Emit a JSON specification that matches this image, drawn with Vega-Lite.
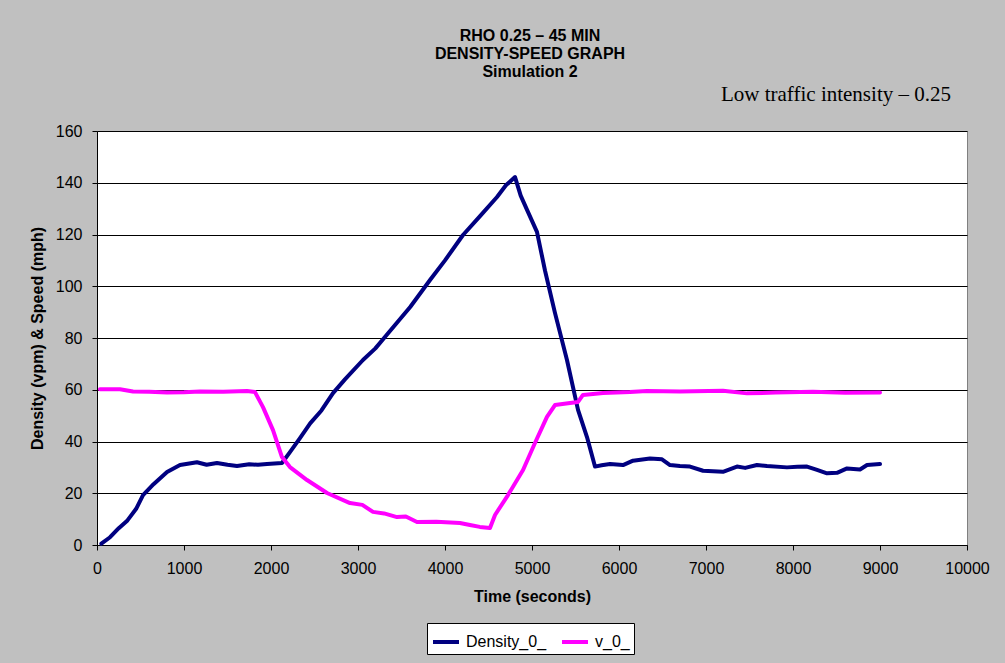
{
  "$schema": "https://vega.github.io/schema/vega-lite/v6.json",
  "width": 870,
  "height": 414,
  "autosize": {"type": "none"},
  "padding": {"left": 97, "top": 131, "right": 38, "bottom": 118},
  "background": "#C0C0C0",
  "config": {
    "view": {"stroke": "#808080", "fill": "white"},
    "font": "Liberation Sans"
  },
  "title": {
    "text": ["RHO 0.25 – 45 MIN", "DENSITY-SPEED GRAPH", "Simulation 2"],
    "anchor": "middle",
    "frame": "group",
    "font": "Liberation Sans",
    "fontSize": 16,
    "fontWeight": "bold",
    "lineHeight": 18,
    "color": "black",
    "offset": 52,
    "dy": 48,
    "dx": -2
  },
  "layer": [
    {
      "data": {
        "values": [
          {"t": 50, "series": "Density_0_", "value": 0.5},
          {"t": 150, "series": "Density_0_", "value": 3},
          {"t": 250, "series": "Density_0_", "value": 6.5},
          {"t": 350, "series": "Density_0_", "value": 9.5},
          {"t": 450, "series": "Density_0_", "value": 14},
          {"t": 529, "series": "Density_0_", "value": 19.3},
          {"t": 650, "series": "Density_0_", "value": 23.5},
          {"t": 805, "series": "Density_0_", "value": 28.2},
          {"t": 954, "series": "Density_0_", "value": 30.9},
          {"t": 1149, "series": "Density_0_", "value": 32},
          {"t": 1260, "series": "Density_0_", "value": 31},
          {"t": 1379, "series": "Density_0_", "value": 31.7},
          {"t": 1500, "series": "Density_0_", "value": 31},
          {"t": 1609, "series": "Density_0_", "value": 30.5},
          {"t": 1750, "series": "Density_0_", "value": 31.2},
          {"t": 1850, "series": "Density_0_", "value": 31},
          {"t": 1954, "series": "Density_0_", "value": 31.3},
          {"t": 2126, "series": "Density_0_", "value": 31.7},
          {"t": 2220, "series": "Density_0_", "value": 36},
          {"t": 2333, "series": "Density_0_", "value": 41.3},
          {"t": 2450, "series": "Density_0_", "value": 47},
          {"t": 2580, "series": "Density_0_", "value": 52},
          {"t": 2713, "series": "Density_0_", "value": 58.7},
          {"t": 2850, "series": "Density_0_", "value": 64},
          {"t": 3057, "series": "Density_0_", "value": 71.5},
          {"t": 3200, "series": "Density_0_", "value": 76},
          {"t": 3300, "series": "Density_0_", "value": 80},
          {"t": 3450, "series": "Density_0_", "value": 86},
          {"t": 3600, "series": "Density_0_", "value": 92},
          {"t": 3828, "series": "Density_0_", "value": 102.4},
          {"t": 4000, "series": "Density_0_", "value": 110},
          {"t": 4207, "series": "Density_0_", "value": 119.8},
          {"t": 4400, "series": "Density_0_", "value": 127},
          {"t": 4598, "series": "Density_0_", "value": 134.5},
          {"t": 4700, "series": "Density_0_", "value": 139},
          {"t": 4805, "series": "Density_0_", "value": 142.2},
          {"t": 4870, "series": "Density_0_", "value": 135},
          {"t": 4943, "series": "Density_0_", "value": 129.5},
          {"t": 5057, "series": "Density_0_", "value": 121},
          {"t": 5150, "series": "Density_0_", "value": 106},
          {"t": 5264, "series": "Density_0_", "value": 89.7},
          {"t": 5402, "series": "Density_0_", "value": 71.5},
          {"t": 5529, "series": "Density_0_", "value": 52.2},
          {"t": 5632, "series": "Density_0_", "value": 41.7},
          {"t": 5724, "series": "Density_0_", "value": 30.3},
          {"t": 5800, "series": "Density_0_", "value": 30.8},
          {"t": 5897, "series": "Density_0_", "value": 31.3},
          {"t": 6046, "series": "Density_0_", "value": 30.9},
          {"t": 6161, "series": "Density_0_", "value": 32.6},
          {"t": 6356, "series": "Density_0_", "value": 33.4},
          {"t": 6494, "series": "Density_0_", "value": 33.1},
          {"t": 6586, "series": "Density_0_", "value": 30.9},
          {"t": 6700, "series": "Density_0_", "value": 30.5},
          {"t": 6816, "series": "Density_0_", "value": 30.3},
          {"t": 6966, "series": "Density_0_", "value": 28.7},
          {"t": 7195, "series": "Density_0_", "value": 28.3},
          {"t": 7356, "series": "Density_0_", "value": 30.3},
          {"t": 7450, "series": "Density_0_", "value": 29.8},
          {"t": 7586, "series": "Density_0_", "value": 30.9},
          {"t": 7701, "series": "Density_0_", "value": 30.5},
          {"t": 7931, "series": "Density_0_", "value": 30.0},
          {"t": 8050, "series": "Density_0_", "value": 30.2},
          {"t": 8161, "series": "Density_0_", "value": 30.3},
          {"t": 8276, "series": "Density_0_", "value": 29.0},
          {"t": 8391, "series": "Density_0_", "value": 27.7},
          {"t": 8506, "series": "Density_0_", "value": 27.9},
          {"t": 8621, "series": "Density_0_", "value": 29.6},
          {"t": 8770, "series": "Density_0_", "value": 29.2},
          {"t": 8851, "series": "Density_0_", "value": 30.9},
          {"t": 9000, "series": "Density_0_", "value": 31.3},
          {"t": 34, "series": "v_0_", "value": 60.2},
          {"t": 264, "series": "v_0_", "value": 60.2},
          {"t": 414, "series": "v_0_", "value": 59.3},
          {"t": 600, "series": "v_0_", "value": 59.2},
          {"t": 805, "series": "v_0_", "value": 58.9},
          {"t": 1000, "series": "v_0_", "value": 59},
          {"t": 1184, "series": "v_0_", "value": 59.3},
          {"t": 1450, "series": "v_0_", "value": 59.2},
          {"t": 1724, "series": "v_0_", "value": 59.5},
          {"t": 1816, "series": "v_0_", "value": 59.1},
          {"t": 1908, "series": "v_0_", "value": 53.3},
          {"t": 2023, "series": "v_0_", "value": 44.4},
          {"t": 2126, "series": "v_0_", "value": 34},
          {"t": 2218, "series": "v_0_", "value": 30.1},
          {"t": 2414, "series": "v_0_", "value": 25.1},
          {"t": 2644, "series": "v_0_", "value": 20.1},
          {"t": 2908, "series": "v_0_", "value": 16.2},
          {"t": 3050, "series": "v_0_", "value": 15.5},
          {"t": 3172, "series": "v_0_", "value": 12.8},
          {"t": 3300, "series": "v_0_", "value": 12.2},
          {"t": 3448, "series": "v_0_", "value": 10.8},
          {"t": 3550, "series": "v_0_", "value": 11},
          {"t": 3678, "series": "v_0_", "value": 8.9},
          {"t": 3900, "series": "v_0_", "value": 9},
          {"t": 4172, "series": "v_0_", "value": 8.5},
          {"t": 4287, "series": "v_0_", "value": 7.7},
          {"t": 4400, "series": "v_0_", "value": 7},
          {"t": 4517, "series": "v_0_", "value": 6.6},
          {"t": 4575, "series": "v_0_", "value": 11.6},
          {"t": 4724, "series": "v_0_", "value": 19.3},
          {"t": 4897, "series": "v_0_", "value": 29},
          {"t": 5034, "series": "v_0_", "value": 39.4},
          {"t": 5172, "series": "v_0_", "value": 49.5},
          {"t": 5264, "series": "v_0_", "value": 54.1},
          {"t": 5437, "series": "v_0_", "value": 54.9},
          {"t": 5529, "series": "v_0_", "value": 55.3},
          {"t": 5586, "series": "v_0_", "value": 58},
          {"t": 5816, "series": "v_0_", "value": 58.7},
          {"t": 6126, "series": "v_0_", "value": 59.1},
          {"t": 6322, "series": "v_0_", "value": 59.5},
          {"t": 6700, "series": "v_0_", "value": 59.3},
          {"t": 7195, "series": "v_0_", "value": 59.6},
          {"t": 7471, "series": "v_0_", "value": 58.6},
          {"t": 7800, "series": "v_0_", "value": 58.9},
          {"t": 8230, "series": "v_0_", "value": 59.2},
          {"t": 8600, "series": "v_0_", "value": 58.8},
          {"t": 9000, "series": "v_0_", "value": 58.9}
        ]
      },
      "mark": {"type": "line", "strokeWidth": 4, "strokeJoin": "round", "strokeCap": "round"},
      "encoding": {
        "x": {
          "field": "t",
          "type": "quantitative",
          "scale": {"domain": [0, 10000], "nice": false},
          "axis": {
            "title": "Time (seconds)",
            "values": [0, 1000, 2000, 3000, 4000, 5000, 6000, 7000, 8000, 9000, 10000],
            "format": "d",
            "grid": false,
            "domainColor": "black",
            "tickColor": "black",
            "tickSize": 5,
            "labelFontSize": 16,
            "labelColor": "black",
            "labelFont": "Liberation Sans",
            "labelPadding": 10,
            "labelFlush": false,
            "labelOverlap": false,
            "titleFontSize": 16,
            "titleFontWeight": "bold",
            "titleColor": "black",
            "titleFont": "Liberation Sans",
            "titlePadding": 12
          }
        },
        "y": {
          "field": "value",
          "type": "quantitative",
          "scale": {"domain": [0, 160], "nice": false},
          "axis": {
            "title": "Density (vpm) & Speed (mph)",
            "values": [0, 20, 40, 60, 80, 100, 120, 140, 160],
            "grid": true,
            "gridColor": "black",
            "gridWidth": 1,
            "domainColor": "black",
            "tickColor": "black",
            "tickSize": 5,
            "labelFontSize": 16,
            "labelColor": "black",
            "labelFont": "Liberation Sans",
            "labelPadding": 10,
            "labelFlush": false,
            "titleFontSize": 16,
            "titleFontWeight": "bold",
            "titleColor": "black",
            "titleFont": "Liberation Sans",
            "titlePadding": 10
          }
        },
        "color": {
          "field": "series",
          "type": "nominal",
          "scale": {"domain": ["Density_0_", "v_0_"], "range": ["#000080", "#FF00FF"]},
          "legend": {
            "title": null,
            "orient": "none",
            "legendX": 330,
            "legendY": 492,
            "direction": "horizontal",
            "fillColor": "white",
            "strokeColor": "black",
            "padding": 4,
            "symbolType": "stroke",
            "symbolSize": 676,
            "symbolStrokeWidth": 4,
            "labelFontSize": 16,
            "labelFont": "Liberation Sans",
            "labelColor": "black",
            "labelOffset": 5,
            "columnPadding": 7
          }
        }
      }
    },
    {
      "data": {"values": [{"t": 8494, "value": 171.6, "label": "Low traffic intensity – 0.25"}]},
      "mark": {"type": "text", "font": "Liberation Serif", "fontSize": 21, "align": "center", "baseline": "alphabetic", "color": "black"},
      "encoding": {
        "x": {"field": "t", "type": "quantitative"},
        "y": {"field": "value", "type": "quantitative"},
        "text": {"field": "label"}
      }
    }
  ]
}
